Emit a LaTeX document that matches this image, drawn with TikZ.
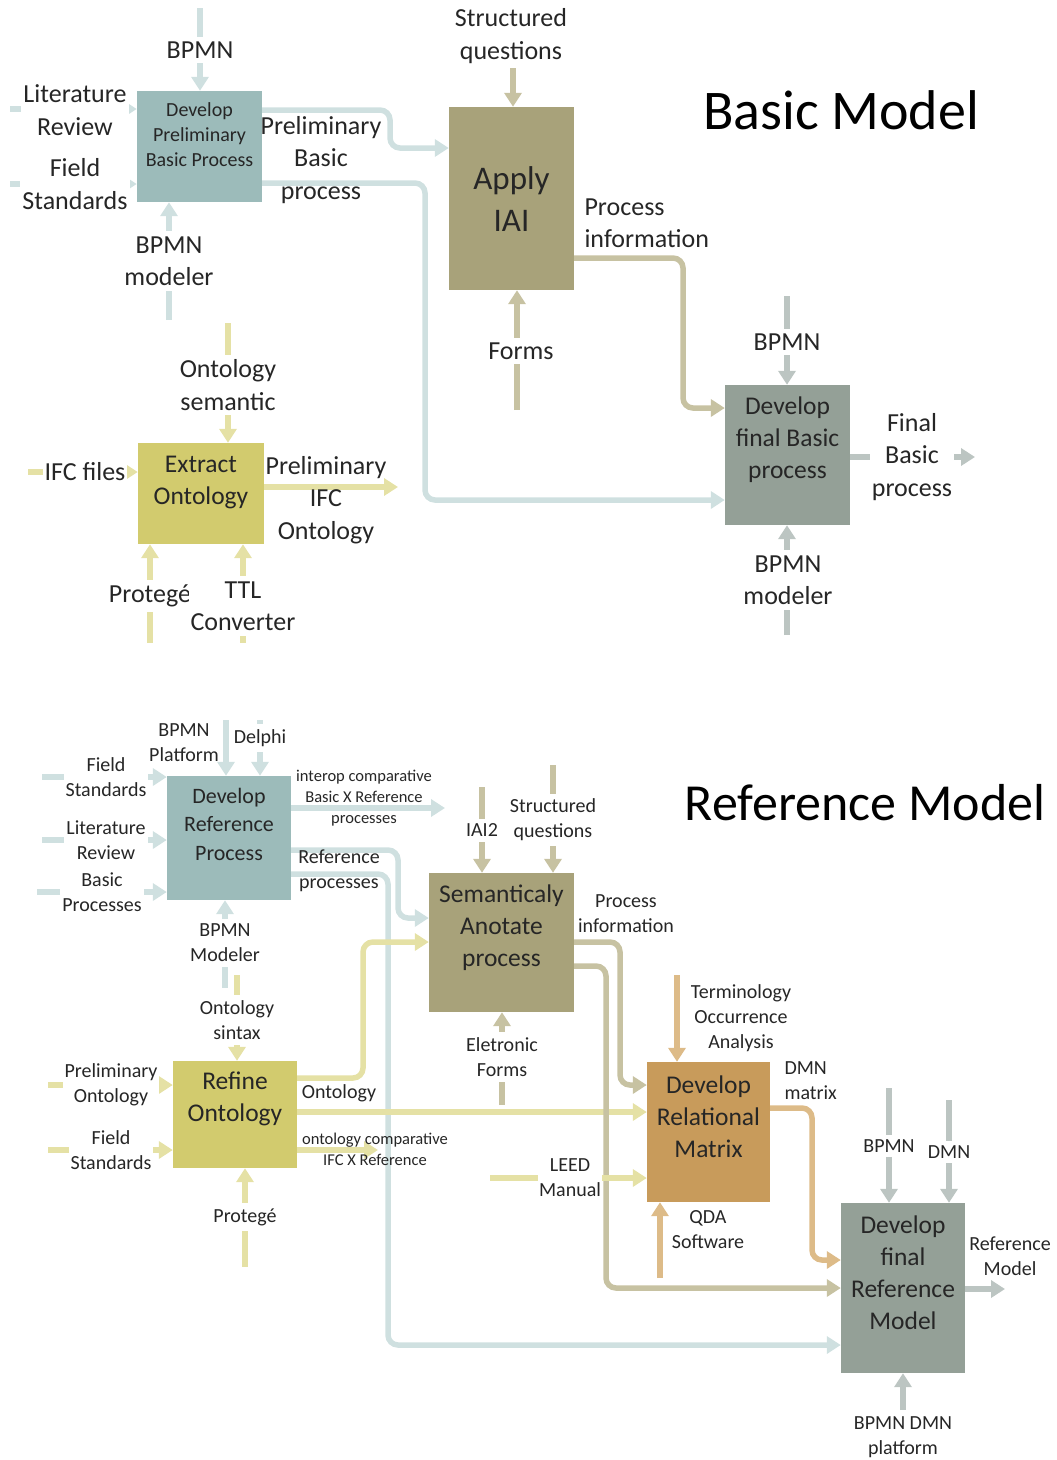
\documentclass[tikz,border=0pt]{standalone}
\usepackage{fontspec}
\setmainfont{Carlito}
\usepackage{xcolor}
\usetikzlibrary{arrows.meta}
\definecolor{myblue}{rgb}{0.612,0.733,0.729}
\definecolor{mylightblue}{rgb}{0.812,0.878,0.878}
\definecolor{mytan}{rgb}{0.659,0.635,0.478}
\definecolor{mylighttan}{rgb}{0.780,0.761,0.635}
\definecolor{mygray}{rgb}{0.580,0.627,0.592}
\definecolor{mylightgray}{rgb}{0.737,0.773,0.761}
\definecolor{myyellow}{rgb}{0.824,0.796,0.431}
\definecolor{mylightyellow}{rgb}{0.898,0.882,0.647}
\definecolor{myorange}{rgb}{0.784,0.608,0.357}
\definecolor{mylightorange}{rgb}{0.867,0.733,0.533}
\definecolor{mytext}{rgb}{0.15,0.15,0.15}

\begin{document}
\begin{tikzpicture}[x=1pt,y=-1pt,
  flow/.style={line width=5.5pt,-{Triangle[width=17pt,length=14pt]},rounded corners=10pt},
  procbox/.style={fill=#1,minimum width=125pt,inner sep=0pt},
  boxtext/.style={align=center,text=mytext,font=\fontsize{25.5}{32}\selectfont},
  biglabel/.style={align=center,text=mytext,font=\fontsize{26}{32.5}\selectfont},
  smalllabel/.style={align=center,text=mytext,font=\fontsize{20}{25}\selectfont},
  tinylabel/.style={align=center,text=mytext,font=\fontsize{16.5}{21}\selectfont},
  cutout/.style={fill=white,inner xsep=2pt,inner ysep=5pt},
  modeltitle/.style={text=black,font=\fontsize{56}{60}\selectfont}]

\useasboundingbox (0,0) rectangle (1057,1460);

% Basic Model
\node[procbox=myblue,minimum height=111pt] (b1) at (199.5,146.5) {};
\node[procbox=mytan,minimum height=183pt] (b2) at (511.5,198.5) {};
\node[procbox=mygray,minimum height=140pt] (b3) at (787.5,455) {};
\node[procbox=myyellow,minimum width=126pt,minimum height=101pt] (b4) at (201,493.5) {};

\coordinate (bpmnA) at (200,8);
\coordinate (litA) at (10,109);
\coordinate (fieldA) at (10,184);
\coordinate (modA) at (169,320);
\coordinate (sqA) at (513,68);
\coordinate (formsA) at (517,410);
\coordinate (bpmnB) at (787,296);
\coordinate (modB) at (787,635);
\coordinate (finalB) at (975,457);
\coordinate (ontsem) at (228,323);
\coordinate (ifcA) at (28,472);
\coordinate (pifc) at (398,487);
\coordinate (protA) at (150,643);
\coordinate (ttlA) at (243,643);

\draw[flow,mylightblue] (bpmnA) -- (bpmnA |- b1.north);
\draw[flow,mylightblue] (litA) -- (litA -| b1.west);
\draw[flow,mylightblue] (fieldA) -- (fieldA -| b1.west);
\draw[flow,mylightblue] (modA) -- (modA |- b1.south);
\draw[flow,mylightblue] (b1.east |- 0,110) -| (390,148) -- (b2.west |- 0,148);
\draw[flow,mylightblue] (b1.east |- 0,183) -| (425,500) -- (b3.west |- 0,500);
\draw[flow,mylighttan] (sqA) -- (sqA |- b2.north);
\draw[flow,mylighttan] (formsA) -- (formsA |- b2.south);
\draw[flow,mylighttan] (b2.east |- 0,258) -| (683,408) -- (b3.west |- 0,408);
\draw[flow,mylightgray] (bpmnB) -- (bpmnB |- b3.north);
\draw[flow,mylightgray] (modB) -- (modB |- b3.south);
\draw[flow,mylightgray] (b3.east |- finalB) -- (finalB);
\draw[flow,mylightyellow] (ontsem) -- (ontsem |- b4.north);
\draw[flow,mylightyellow] (ifcA) -- (ifcA -| b4.west);
\draw[flow,mylightyellow] (b4.east |- pifc) -- (pifc);
\draw[flow,mylightyellow] (protA) -- (protA |- b4.south);
\draw[flow,mylightyellow] (ttlA) -- (ttlA |- b4.south);

\node[boxtext,font=\fontsize{20}{25}\selectfont] (b1t) at (199.5,135) {Develop\\Preliminary\\Basic Process};
\node[boxtext,font=\fontsize{33}{42}\selectfont] (b2t) at (511.5,199) {Apply\\IAI};
\node[boxtext] (b3t) at (787.5,440) {Develop\\final Basic\\process};
\node[boxtext] (b4t) at (201,483) {Extract\\Ontology};

\node[biglabel,cutout] (l1) at (200,50) {BPMN};
\node[biglabel,cutout] (l2) at (75,110) {Literature\\Review};
\node[biglabel,cutout] (l3) at (75,184) {Field\\Standards};
\node[biglabel,cutout] (l4) at (169,261) {BPMN\\modeler};
\node[biglabel] (l5) at (321,160) {Preliminary\\Basic\\process};
\node[biglabel] (l6) at (511,36) {Structured\\questions};
\node[biglabel,cutout] (l7) at (521,351) {Forms};
\node[biglabel,align=left,anchor=west] (l8) at (581,223) {Process\\information};
\node[biglabel,cutout] (l9) at (787,342) {BPMN};
\node[biglabel,cutout] (l10) at (788,580) {BPMN\\modeler};
\node[biglabel,cutout] (l11) at (912,457) {Final\\Basic\\process};
\node[biglabel,cutout] (l12) at (228,385) {Ontology\\semantic};
\node[biglabel,cutout] (l13) at (85,472) {IFC files};
\node[biglabel] (l14) at (326,500) {Preliminary\\IFC\\Ontology};
\node[biglabel,cutout] (l15) at (150,596) {Protegé};
\node[biglabel,cutout] (l16) at (243,606) {TTL\\Converter};
\node[modeltitle] (t1) at (841,110) {Basic Model};

% Reference Model
\node[procbox=myblue,minimum width=124pt,minimum height=124pt] (c1) at (229,838) {};
\node[procbox=mytan,minimum width=145pt,minimum height=139pt] (c2) at (501.5,942.5) {};
\node[procbox=myorange,minimum width=123pt,minimum height=140pt] (c3) at (708.5,1132) {};
\node[procbox=myyellow,minimum width=124pt,minimum height=107pt] (c4) at (235,1114.5) {};
\node[procbox=mygray,minimum width=124pt,minimum height=170pt] (c5) at (903,1288) {};

\coordinate (bpmnplat) at (226,720);
\coordinate (delphi) at (260,720);
\coordinate (fieldC) at (42,777);
\coordinate (litC) at (42,840);
\coordinate (basicC) at (37,892);
\coordinate (modC) at (225,988);
\coordinate (interop) at (445,808);
\coordinate (iai2) at (482,787);
\coordinate (sqC) at (553,765);
\coordinate (eforms) at (502,1105);
\coordinate (toa) at (677,975);
\coordinate (leed) at (490,1178);
\coordinate (qda) at (660,1278);
\coordinate (ontsin) at (237,975);
\coordinate (pont) at (48,1085);
\coordinate (fieldD) at (48,1150);
\coordinate (protC) at (245,1267);
\coordinate (ocomp) at (378,1150);
\coordinate (bpmnC) at (889,1088);
\coordinate (dmnC) at (949,1100);
\coordinate (platC) at (903,1410);
\coordinate (refmod) at (1005,1289);

\draw[flow,mylightblue] (bpmnplat) -- (bpmnplat |- c1.north);
\draw[flow,mylightblue] (delphi) -- (delphi |- c1.north);
\draw[flow,mylightblue] (fieldC) -- (fieldC -| c1.west);
\draw[flow,mylightblue] (litC) -- (litC -| c1.west);
\draw[flow,mylightblue] (basicC) -- (basicC -| c1.west);
\draw[flow,mylightblue] (modC) -- (modC |- c1.south);
\draw[flow,mylightblue] (c1.east |- interop) -- (interop);
\draw[flow,mylightblue] (c1.east |- 0,850) -| (398,918) -- (c2.west |- 0,918);
\draw[flow,mylightblue] (c1.east |- 0,874) -| (388,1345) -- (c5.west |- 0,1345);
\draw[flow,mylighttan] (iai2) -- (iai2 |- c2.north);
\draw[flow,mylighttan] (sqC) -- (sqC |- c2.north);
\draw[flow,mylighttan] (eforms) -- (eforms |- c2.south);
\draw[flow,mylightyellow] (c4.east |- 0,1078) -| (363,942) -- (c2.west |- 0,942);
\draw[flow,mylightyellow] (c4.east |- 0,1112) -- (c3.west |- 0,1112);
\draw[flow,mylightyellow] (c4.east |- ocomp) -- (ocomp);
\draw[flow,mylighttan] (c2.east |- 0,942) -| (620,1085) -- (c3.west |- 0,1085);
\draw[flow,mylighttan] (c2.east |- 0,966) -| (606,1288) -- (c5.west |- 0,1288);
\draw[flow,mylightorange] (toa) -- (toa |- c3.north);
\draw[flow,mylightyellow] (leed) -- (leed -| c3.west);
\draw[flow,mylightorange] (qda) -- (qda |- c3.south);
\draw[flow,mylightorange] (c3.east |- 0,1108) -| (812,1260) -- (c5.west |- 0,1260);
\draw[flow,mylightyellow] (ontsin) -- (ontsin |- c4.north);
\draw[flow,mylightyellow] (pont) -- (pont -| c4.west);
\draw[flow,mylightyellow] (fieldD) -- (fieldD -| c4.west);
\draw[flow,mylightyellow] (protC) -- (protC |- c4.south);
\draw[flow,mylightgray] (bpmnC) -- (bpmnC |- c5.north);
\draw[flow,mylightgray] (dmnC) -- (dmnC |- c5.north);
\draw[flow,mylightgray] (platC) -- (platC |- c5.south);
\draw[flow,mylightgray] (c5.east |- refmod) -- (refmod);

\node[boxtext,font=\fontsize{22}{28.5}\selectfont] (c1t) at (229,824) {Develop\\Reference\\Process};
\node[boxtext] (c2t) at (501.5,928) {Semanticaly\\Anotate\\process};
\node[boxtext] (c3t) at (708.5,1117) {Develop\\Relational\\Matrix};
\node[boxtext] (c4t) at (235,1099) {Refine\\Ontology};
\node[boxtext] (c5t) at (903,1273) {Develop\\final\\Reference\\Model};

\node[smalllabel] (m1) at (184,743) {BPMN\\Platform};
\node[smalllabel,cutout] (m2) at (260,738) {Delphi};
\node[smalllabel,cutout] (m3) at (106,777) {Field\\Standards};
\node[smalllabel,cutout] (m4) at (106,840) {Literature\\Review};
\node[smalllabel,cutout] (m5) at (102,892) {Basic\\Processes};
\node[smalllabel,cutout] (m6) at (225,943) {BPMN\\Modeler};
\node[tinylabel] (m7) at (364,798) {interop comparative\\Basic X Reference\\processes};
\node[smalllabel] (m8) at (339,871) {Reference\\processes};
\node[smalllabel,cutout] (m9) at (482,830) {IAI2};
\node[smalllabel,cutout] (m10) at (553,820) {Structured\\questions};
\node[smalllabel] (m11) at (626,914) {Process\\information};
\node[smalllabel,cutout] (m12) at (502,1057) {Eletronic\\Forms};
\node[smalllabel] (m13) at (741,1018) {Terminology\\Occurrence\\Analysis};
\node[smalllabel,align=left,anchor=west] (m14) at (781,1081) {DMN\\matrix};
\node[smalllabel] (m15) at (339,1093) {Ontology};
\node[smalllabel,cutout,inner xsep=1pt] (m16) at (570,1178) {LEED\\Manual};
\node[smalllabel] (m17) at (708,1230) {QDA\\Software};
\node[smalllabel,cutout] (m18) at (237,1020) {Ontology\\sintax};
\node[smalllabel,cutout] (m19) at (111,1085) {Preliminary\\Ontology};
\node[smalllabel,cutout] (m20) at (111,1150) {Field\\Standards};
\node[smalllabel,cutout] (m21) at (245,1217) {Protegé};
\node[tinylabel] (m22) at (375,1149) {ontology comparative\\IFC X Reference};
\node[smalllabel,cutout] (m23) at (889,1146) {BPMN};
\node[smalllabel,cutout] (m24) at (949,1152) {DMN};
\node[smalllabel] (m25) at (903,1437) {BPMN DMN\\platform};
\node[smalllabel] (m26) at (1010,1256) {Reference\\Model};
\node[modeltitle,font=\fontsize{52}{56}\selectfont] (t2) at (865,803) {Reference Model};
\end{tikzpicture}
\end{document}
